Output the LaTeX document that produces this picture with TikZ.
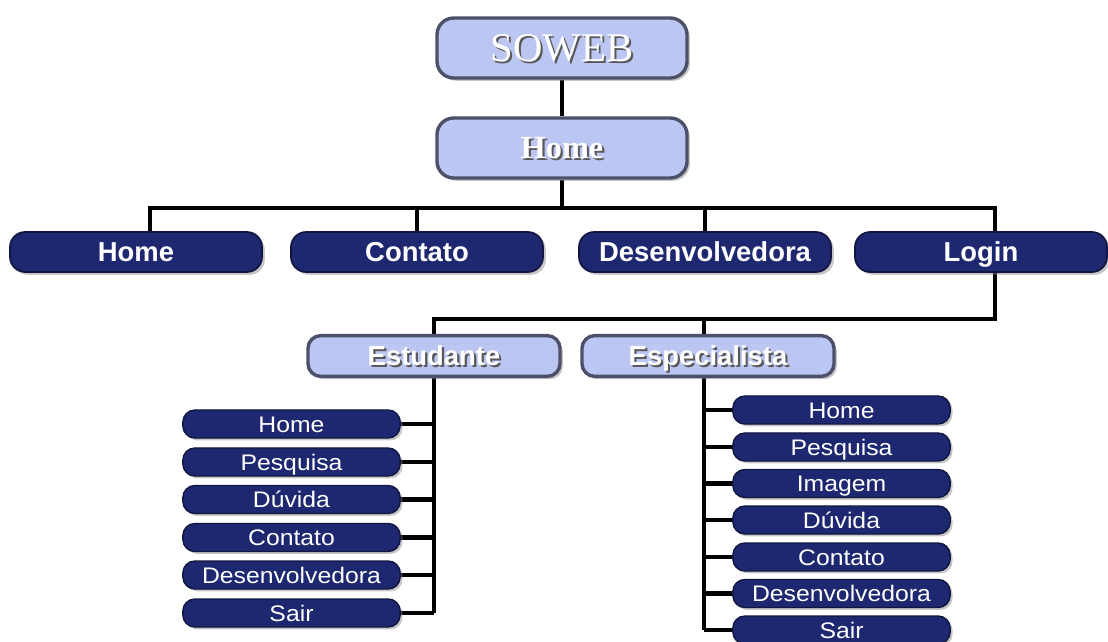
\documentclass[tikz,border=0pt]{standalone}
\usepackage{fontspec}
\setmainfont{Liberation Serif}
\setsansfont{Liberation Sans}
\newfontfamily\itemfont[FakeStretch=1.1]{Liberation Sans}
\usepackage{tikz}
\usetikzlibrary{shadows,backgrounds}

\definecolor{boxnavy}{HTML}{1E2870}
\definecolor{navyrim}{HTML}{10163F}
\definecolor{boxlight}{HTML}{BCC6F2}
\definecolor{lightrim}{HTML}{4C5068}

\newcommand{\shadowtext}[1]{\rlap{\kern1.5pt\raisebox{-1.5pt}{\textcolor{black!65}{#1}}}#1}

\begin{document}
\begin{tikzpicture}[x=0.025cm, y=-0.025cm, inner sep=0pt,
    conn/.style={line width=3pt, draw=black},
    lightbox/.style={rounded corners=0.42cm, draw=lightrim, line width=2.4pt, fill=boxlight, text=white,
        text depth=0pt,
        drop shadow={shadow xshift=0.07cm, shadow yshift=-0.07cm, opacity=0.45}},
    rootbox/.style={lightbox, minimum width=6.25cm, minimum height=1.5cm},
    rolebox/.style={lightbox, rounded corners=0.32cm, minimum width=6.3cm, minimum height=1.02cm,
        text height=14pt, font=\sffamily\bfseries\fontsize{19.5}{22}\selectfont},
    menubox/.style={rounded corners=0.38cm, draw=navyrim, line width=1.2pt, fill=boxnavy, text=white,
        minimum width=6.3cm, minimum height=1cm, text height=14pt, text depth=0pt,
        font=\sffamily\bfseries\fontsize{19.5}{22}\selectfont,
        drop shadow={shadow xshift=0.07cm, shadow yshift=-0.07cm, opacity=0.45}},
    itembox/.style={rounded corners=0.3cm, draw=navyrim, line width=1pt, fill=boxnavy, text=white,
        minimum width=5.43cm, minimum height=0.7cm, text height=11.5pt, text depth=0pt,
        font=\itemfont\fontsize{16}{18}\selectfont,
        drop shadow={shadow xshift=0.06cm, shadow yshift=-0.06cm, opacity=0.45}}]
    \useasboundingbox (0,0) rectangle (1108,642);

    % topo
    \node[rootbox, text height=19pt, font=\rmfamily\fontsize{29}{31}\selectfont](soweb) at (562,48) {\shadowtext{SOWEB}};
    \node[rootbox, text height=15pt, font=\rmfamily\bfseries\fontsize{23}{25}\selectfont](homepage) at (562,148) {\shadowtext{Home}};

    % menu principal
    \node[menubox](mhome) at (136,252) {Home};
    \node[menubox](mcontato) at (417,252) {Contato};
    \node[menubox](mdesenv) at (705,252) {Desenvolvedora};
    \node[menubox](mlogin) at (981,252) {Login};

    % perfis
    \node[rolebox](estudante) at (434,356) {\shadowtext{Estudante}};
    \node[rolebox](especialista) at (708,356) {\shadowtext{Especialista}};

    % estudante
    \node[itembox](ehome) at (291.5,424) {Home};
    \node[itembox](epesquisa) at (291.5,462) {Pesquisa};
    \node[itembox](eduvida) at (291.5,499.5) {Dúvida};
    \node[itembox](econtato) at (291.5,537.5) {Contato};
    \node[itembox](edesenv) at (291.5,575) {Desenvolvedora};
    \node[itembox](esair) at (291.5,613) {Sair};

    % especialista
    \node[itembox](phome) at (841.5,410) {Home};
    \node[itembox](ppesquisa) at (841.5,447) {Pesquisa};
    \node[itembox](pimagem) at (841.5,483.5) {Imagem};
    \node[itembox](pduvida) at (841.5,520) {Dúvida};
    \node[itembox](pcontato) at (841.5,557) {Contato};
    \node[itembox](pdesenv) at (841.5,593.5) {Desenvolvedora};
    \node[itembox](psair) at (841.5,630) {Sair};

    \coordinate (busL) at (150,208);
    \coordinate (busR) at (995,208);
    \coordinate (loginL) at (434,319);
    \coordinate (loginR) at (995,319);
    \coordinate (espX) at (704,319);

    \begin{scope}[on background layer]
        \draw[conn](soweb) -- (homepage);
        \draw[conn](homepage) -- (homepage |- busL);
        \draw[conn](mhome.north -| busL) -- (busL) -- (busR) -- (mlogin.north -| busR);
        \draw[conn](mcontato) -- (mcontato |- busL);
        \draw[conn](mdesenv) -- (mdesenv |- busL);
        \draw[conn](mlogin.south -| busR) -- (loginR) -- (loginL) -- (loginL |- esair);
        \draw[conn](espX) -- (espX |- psair);

        \draw[conn](ehome.east) -- (ehome.east -| loginL);
        \draw[conn](epesquisa.east) -- (epesquisa.east -| loginL);
        \draw[conn](eduvida.east) -- (eduvida.east -| loginL);
        \draw[conn](econtato.east) -- (econtato.east -| loginL);
        \draw[conn](edesenv.east) -- (edesenv.east -| loginL);
        \draw[conn](esair.east) -- (esair.east -| loginL);

        \draw[conn](phome.west) -- (phome.west -| espX);
        \draw[conn](ppesquisa.west) -- (ppesquisa.west -| espX);
        \draw[conn](pimagem.west) -- (pimagem.west -| espX);
        \draw[conn](pduvida.west) -- (pduvida.west -| espX);
        \draw[conn](pcontato.west) -- (pcontato.west -| espX);
        \draw[conn](pdesenv.west) -- (pdesenv.west -| espX);
        \draw[conn](psair.west) -- (psair.west -| espX);
    \end{scope}
\end{tikzpicture}
\end{document}
